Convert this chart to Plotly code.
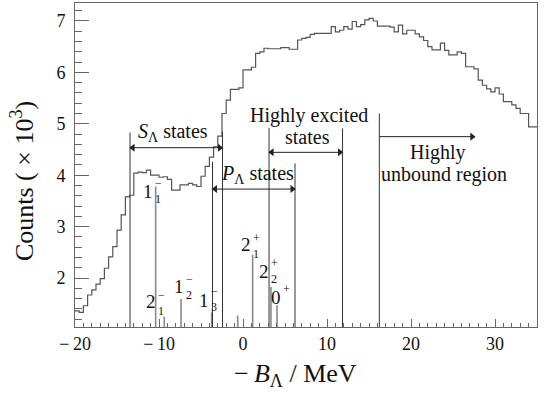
import numpy as np
import plotly.graph_objects as go

# ---------------- data ----------------
bin_lo = -20.0
bin_width = 0.5
counts = [
    1.36, 1.33, 1.46, 1.67, 1.77, 1.88, 1.99, 2.19, 2.41, 2.61,
    2.93, 3.23, 3.58, 3.61, 4.04, 4.06, 4.05, 4.10, 4.00, 4.00,
    3.96, 3.97, 3.92, 3.71, 3.71, 3.81, 3.81, 3.84, 3.81, 3.78,
    3.98, 4.17, 4.35, 4.55, 4.76, 5.20, 5.46, 5.67, 5.67, 5.70,
    6.05, 6.05, 6.10, 6.37, 6.40, 6.47, 6.46, 6.46, 6.46, 6.48,
    6.48, 6.45, 6.45, 6.63, 6.66, 6.68, 6.74, 6.76, 6.76, 6.76,
    6.76, 6.89, 6.79, 6.82, 6.89, 6.84, 6.99, 6.89, 6.93, 7.02,
    7.05, 7.00, 6.90, 6.90, 6.90, 6.88, 6.79, 6.92, 6.75, 6.82,
    6.82, 6.75, 6.69, 6.62, 6.50, 6.44, 6.44, 6.57, 6.43, 6.34,
    6.34, 6.40, 6.37, 6.11, 6.11, 6.07, 5.85, 5.75, 5.68, 5.62,
    5.70, 5.58, 5.43, 5.43, 5.37, 5.30, 5.20, 5.20, 4.94, 4.94,
]

# theoretical state positions (MeV) and line heights (x10^3)
peak_x = [-10.40, -9.37, -7.38, -3.73, -0.63, 1.15, 3.33, 4.05]
peak_h = [3.78, 1.25, 1.59, 1.33, 1.27, 2.45, 1.83, 1.47]

# region boundary lines
bound_x = [-13.45, -2.44, -3.63, 6.19, 3.10, 11.85, 16.23]
bound_top = [4.83, 4.85, 4.26, 4.23, 4.92, 4.91, 5.20]

# region arrows: (x_start, x_end, y, double headed)
arrow_x0 = [-13.45, -3.63, 3.10, 16.23]
arrow_x1 = [-2.44, 6.19, 11.85, 27.6]
arrow_y = [4.535, 3.73, 4.445, 4.75]
arrow_double = [True, True, True, False]

# region texts
region_text = ["<i>S</i><sub>Λ</sub> states", "<i>P</i><sub>Λ</sub> states",
               "Highly excited", "states", "Highly", "unbound region"]
region_tx = [-8.33, 1.67, 7.86, 7.62, 23.21, 23.93]
region_ty = [4.84, 4.02, 5.17, 4.74, 4.45, 4.02]

# state labels: main symbol + stacked superscript / subscript
state_main = ["1", "2", "1", "1", "2", "2", "0"]
state_sup = ["−", "−", "−", "−", "+", "+", "+"]
state_sub = ["1", "1", "2", "3", "1", "2", ""]
state_x = [-10.57, -10.24, -6.96, -3.96, 1.13, 3.18, 4.70]
state_my = [3.68, 1.54, 1.83, 1.57, 2.65, 2.13, 1.62]
state_sy = [3.70, 1.52, 1.83, 1.59, 2.62, 2.13, 1.78]

x_tickvals = [-20, -10, 0, 10, 20, 30]
x_ticktext = ["−\u200920", "−\u200910", "0", "10", "20", "30"]
y_tickvals = [2, 3, 4, 5, 6, 7]
y_ticktext = ["2", "3", "4", "5", "6", "7"]

X_RANGE = [-20, 35]
Y_RANGE = [1.047, 7.35]
FONT = "Liberation Serif, Times New Roman, serif"
HEAD_OFFSET = 0.33  # MeV, so the triangle tip meets the line end

# ---------------- figure ----------------
fig = go.Figure()

edges = bin_lo + bin_width * np.arange(len(counts) + 1)
fig.add_trace(go.Scatter(
    x=edges, y=list(counts) + [counts[-1]], mode="lines",
    line=dict(shape="hv", color="#555555", width=1.2),
    hoverinfo="skip", showlegend=False))

# peak lines
px_, py_ = [], []
for xv, hv in zip(peak_x, peak_h):
    px_ += [xv, xv, None]
    py_ += [Y_RANGE[0], hv, None]
fig.add_trace(go.Scatter(x=px_, y=py_, mode="lines",
                         line=dict(color="#8a8a8a", width=1.6),
                         hoverinfo="skip", showlegend=False))

# boundary lines
bx_, by_ = [], []
for xv, tv in zip(bound_x, bound_top):
    bx_ += [xv, xv, None]
    by_ += [Y_RANGE[0], tv, None]
fig.add_trace(go.Scatter(x=bx_, y=by_, mode="lines",
                         line=dict(color="#333333", width=1),
                         hoverinfo="skip", showlegend=False))

# arrows: shafts + heads
ax_, ay_ = [], []
rh_x, rh_y, lh_x, lh_y = [], [], [], []
for x0, x1, yv, dbl in zip(arrow_x0, arrow_x1, arrow_y, arrow_double):
    ax_ += [x0, x1, None]
    ay_ += [yv, yv, None]
    rh_x.append(x1 - HEAD_OFFSET)
    rh_y.append(yv)
    if dbl:
        lh_x.append(x0 + HEAD_OFFSET)
        lh_y.append(yv)
fig.add_trace(go.Scatter(x=ax_, y=ay_, mode="lines",
                         line=dict(color="#222222", width=1),
                         hoverinfo="skip", showlegend=False))
fig.add_trace(go.Scatter(x=rh_x, y=rh_y, mode="markers",
                         marker=dict(symbol="triangle-right", size=7, color="#222222",
                                     line=dict(width=0)),
                         hoverinfo="skip", showlegend=False))
fig.add_trace(go.Scatter(x=lh_x, y=lh_y, mode="markers",
                         marker=dict(symbol="triangle-left", size=7, color="#222222",
                                     line=dict(width=0)),
                         hoverinfo="skip", showlegend=False))

annotations = []
for t, xv, yv in zip(region_text, region_tx, region_ty):
    annotations.append(dict(x=xv, y=yv, xref="x", yref="y", text=t,
                            showarrow=False, xanchor="center", yanchor="middle",
                            font=dict(family=FONT, size=20, color="#111111")))

for i in range(len(state_main)):
    annotations.append(dict(x=state_x[i], y=state_my[i], xref="x", yref="y",
                            text=state_main[i], showarrow=False, borderpad=0,
                            xanchor="right", yanchor="middle",
                            font=dict(family=FONT, size=19, color="#111111")))
    stack = state_sup[i] + ("<br>" + state_sub[i] if state_sub[i] else "")
    annotations.append(dict(x=state_x[i], y=state_sy[i], xref="x", yref="y",
                            text=stack, showarrow=False, borderpad=0, align="left",
                            xanchor="left", yanchor="middle",
                            font=dict(family=FONT, size=12, color="#111111")))

# axis titles
annotations.append(dict(x=0.478, y=-0.148, xref="paper", yref="paper",
                        text="−\u2009<i>B</i><sub>Λ</sub> / MeV", showarrow=False,
                        xanchor="center", yanchor="middle",
                        font=dict(family=FONT, size=26, color="#111111")))
annotations.append(dict(x=-0.115, y=0.45, xref="paper", yref="paper",
                        text="Counts ( × 10<sup>3</sup>)", showarrow=False,
                        textangle=-90, xanchor="center", yanchor="middle",
                        font=dict(family=FONT, size=26, color="#111111")))

axis_common = dict(showline=True, mirror=True, linecolor="#666666", linewidth=1,
                   ticks="inside", tickcolor="#666666", tickwidth=1,
                   showgrid=False, zeroline=False,
                   tickfont=dict(family=FONT, size=18, color="#111111"))

fig.update_layout(
    width=548, height=393,
    margin=dict(l=75, r=11, t=3, b=66),
    paper_bgcolor="white", plot_bgcolor="white",
    showlegend=False,
    annotations=annotations,
    xaxis=dict(range=X_RANGE, tickmode="array", tickvals=x_tickvals,
               ticktext=x_ticktext, ticklen=8,
               minor=dict(ticks="inside", ticklen=4, tick0=-20, dtick=1,
                          tickcolor="#666666", showgrid=False),
               **axis_common),
    yaxis=dict(range=Y_RANGE, tickmode="array", tickvals=y_tickvals,
               ticktext=y_ticktext, ticklen=14, ticklabelstandoff=5,
               minor=dict(ticks="inside", ticklen=7, tick0=0, dtick=0.2,
                          tickcolor="#666666", showgrid=False),
               **axis_common),
)

fig.write_html("out.html", config={"displayModeBar": False},
               post_script="document.body.style.margin='0';document.body.style.overflow='hidden';")
